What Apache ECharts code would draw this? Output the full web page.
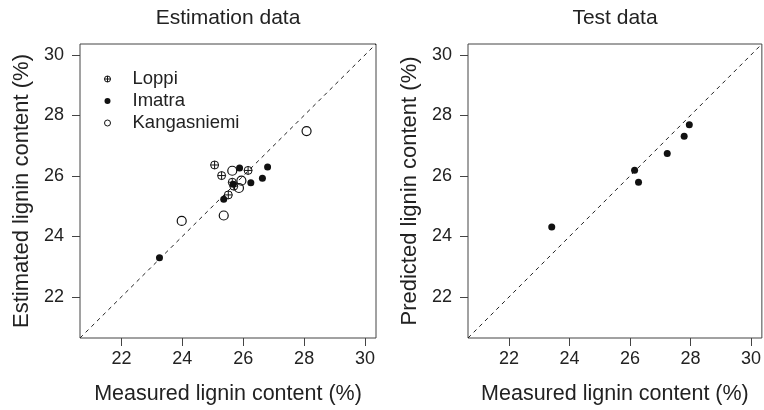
<!DOCTYPE html>
<html>
<head>
<meta charset="utf-8">
<script src="https://cdn.jsdelivr.net/npm/echarts@6/dist/echarts.min.js"></script>
<style>
  html, body { margin: 0; padding: 0; background: #fff; }
  #main { width: 764px; height: 410px; }
</style>
</head>
<body>
<div id="main"></div>
<script>
// axis range and ticks (both panels, both axes)
var axisMin = 20.64, axisMax = 30.36;
var ticks = [22, 24, 26, 28, 30];

// estimation data: [measured, estimated]
var loppi = [[25.06, 26.36], [25.29, 26.01], [26.16, 26.18], [25.64, 25.79], [25.69, 25.66], [25.51, 25.37]];
var imatra = [[23.25, 23.29], [25.88, 26.26], [26.80, 26.29], [26.63, 25.92], [26.25, 25.77], [25.36, 25.23], [25.67, 25.72]];
var kangasniemi = [[28.08, 27.48], [23.98, 24.51], [25.36, 24.69], [25.64, 26.17], [25.94, 25.84], [25.86, 25.60]];

// test data: [measured, predicted]
var testData = [[23.41, 24.31], [26.15, 26.19], [26.28, 25.79], [27.23, 26.74], [27.79, 27.31], [27.96, 27.69]];

var font = "'Liberation Sans', Arial, sans-serif";
var ink = '#222';
var circlePlus = 'path://M0,-10A10,10 0 1,1 0,10A10,10 0 1,1 0,-10ZM-10,0L10,0M0,-10L0,10';

function xAxis(idx) {
    return {
        gridIndex: idx, type: 'value', min: axisMin, max: axisMax,
        name: 'Measured lignin content (%)', nameLocation: 'middle', nameGap: 45,
        nameTextStyle: { fontFamily: font, fontSize: 21.5, color: ink },
        axisLine: { show: false },
        splitLine: { show: false },
        axisTick: { show: true, inside: false, length: 8, customValues: ticks, lineStyle: { color: '#444' } },
        axisLabel: { customValues: ticks, margin: 12, fontFamily: font, fontSize: 18, color: ink }
    };
}
function yAxis(idx, name) {
    return {
        gridIndex: idx, type: 'value', min: axisMin, max: axisMax,
        name: name, nameLocation: 'middle', nameGap: 47,
        nameTextStyle: { fontFamily: font, fontSize: 22, color: ink },
        axisLine: { show: false },
        splitLine: { show: false },
        axisTick: { show: true, inside: false, length: 8, customValues: ticks, lineStyle: { color: '#444' } },
        axisLabel: { customValues: ticks, margin: 16, fontFamily: font, fontSize: 18, color: ink }
    };
}
function diag(idx) {
    return {
        type: 'line', xAxisIndex: idx, yAxisIndex: idx, symbol: 'none', silent: true, z: 1,
        data: [[axisMin, axisMin], [axisMax, axisMax]],
        lineStyle: { color: '#222', width: 1, type: [4, 4] }
    };
}

var myChart = echarts.init(document.getElementById('main'));
var option = {
    animation: false,
    backgroundColor: '#fff',
    title: [
        { text: 'Estimation data', left: 228, top: 8, textAlign: 'center', padding: 0,
          textStyle: { fontFamily: font, fontSize: 21, fontWeight: 'normal', color: ink } },
        { text: 'Test data', left: 615, top: 8, textAlign: 'center', padding: 0,
          textStyle: { fontFamily: font, fontSize: 21, fontWeight: 'normal', color: ink } }
    ],
    legend: {
        data: ['Loppi', 'Imatra', 'Kangasniemi'],
        orient: 'vertical', left: 104, top: 68, padding: 0,
        itemWidth: 40, itemHeight: 6, itemGap: 0,
        itemStyle: { borderWidth: 1 },
        textStyle: { fontFamily: font, fontSize: 18.5, lineHeight: 22, color: ink }
    },
    grid: [
        { left: 80, top: 44, width: 296, height: 296, show: true, borderColor: '#444', borderWidth: 1 },
        { left: 468, top: 44, width: 295, height: 296, show: true, borderColor: '#444', borderWidth: 1 }
    ],
    xAxis: [xAxis(0), xAxis(1)],
    yAxis: [yAxis(0, 'Estimated lignin content (%)'), yAxis(1, 'Predicted lignin content (%)')],
    series: [
        diag(0),
        diag(1),
        {
            name: 'Kangasniemi', type: 'scatter', xAxisIndex: 0, yAxisIndex: 0, z: 3,
            symbol: 'circle', symbolSize: 9, data: kangasniemi,
            itemStyle: { color: 'rgba(255,255,255,0)', borderColor: '#111', borderWidth: 1.2, opacity: 1 }
        },
        {
            name: 'Loppi', type: 'scatter', xAxisIndex: 0, yAxisIndex: 0, z: 4,
            symbol: circlePlus, symbolSize: 8, symbolKeepAspect: true, data: loppi,
            itemStyle: { color: 'rgba(255,255,255,0)', borderColor: '#111', borderWidth: 1, opacity: 1 }
        },
        {
            name: 'Imatra', type: 'scatter', xAxisIndex: 0, yAxisIndex: 0, z: 5,
            symbol: 'circle', symbolSize: 7, data: imatra,
            itemStyle: { color: '#111', opacity: 1 }
        },
        {
            name: 'Test', type: 'scatter', xAxisIndex: 1, yAxisIndex: 1, z: 5,
            symbol: 'circle', symbolSize: 7, data: testData,
            itemStyle: { color: '#111', opacity: 1 }
        }
    ]
};
myChart.setOption(option);
</script>
</body>
</html>
